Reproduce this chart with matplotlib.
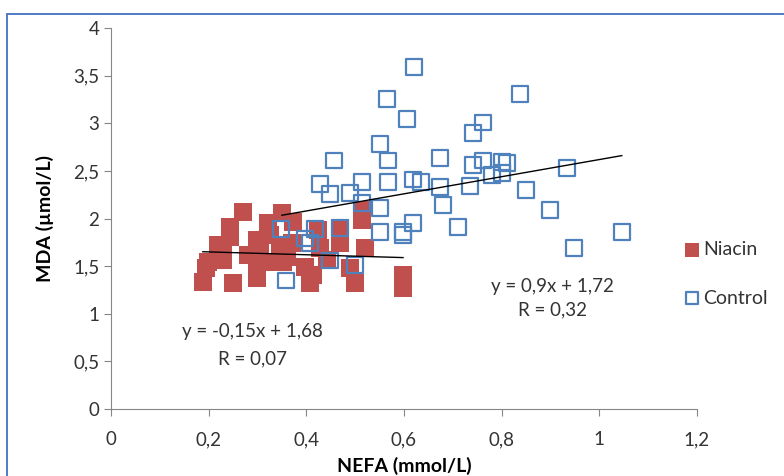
import matplotlib
matplotlib.use("Agg")
import matplotlib.pyplot as plt
from matplotlib.ticker import FuncFormatter
from matplotlib.patches import Rectangle

# Niacin group (NEFA, MDA)
niacin_x = [0.270, 0.350, 0.244, 0.322, 0.373, 0.514, 0.514, 0.469, 0.219, 0.244,
            0.299, 0.305, 0.346, 0.371, 0.428, 0.469, 0.520, 0.199, 0.229, 0.299,
            0.352, 0.397, 0.442, 0.489, 0.188, 0.250, 0.408, 0.500, 0.299, 0.414,
            0.598, 0.598, 0.326, 0.326, 0.424, 0.195, 0.280, 0.360, 0.230]
niacin_y = [2.07, 2.06, 1.91, 1.95, 1.96, 1.98, 2.09, 1.90, 1.72, 1.81,
            1.77, 1.64, 1.70, 1.74, 1.69, 1.74, 1.69, 1.54, 1.56, 1.48,
            1.54, 1.49, 1.56, 1.48, 1.33, 1.32, 1.32, 1.32, 1.38, 1.41,
            1.41, 1.27, 1.54, 1.83, 1.88, 1.48, 1.62, 1.60, 1.66]

# Control group
control_x = [0.620, 0.565, 0.606, 0.551, 0.457, 0.567, 0.674, 0.428, 0.514, 0.567,
             0.618, 0.635, 0.448, 0.489, 0.674, 0.838, 0.762, 0.741, 0.741, 0.762,
             0.800, 0.811, 0.780, 0.800, 0.934, 0.735, 0.850, 0.551, 0.680, 0.899,
             0.618, 0.551, 0.598, 0.598, 0.711, 0.948, 1.046, 0.348, 0.418, 0.469,
             0.397, 0.408, 0.448, 0.500, 0.358, 0.514]
control_y = [3.59, 3.26, 3.05, 2.78, 2.61, 2.61, 2.64, 2.36, 2.38, 2.38,
             2.41, 2.38, 2.26, 2.27, 2.33, 3.31, 3.01, 2.90, 2.56, 2.61,
             2.59, 2.58, 2.46, 2.48, 2.53, 2.34, 2.30, 2.11, 2.14, 2.09,
             1.95, 1.86, 1.86, 1.83, 1.91, 1.69, 1.86, 1.89, 1.89, 1.90,
             1.79, 1.74, 1.56, 1.51, 1.35, 2.16]

# trend lines
niacin_fit = (-0.15, 1.68)
niacin_range = (0.188, 0.598)
control_fit = (0.9, 1.72)
control_range = (0.35, 1.046)

xticks = [0, 0.2, 0.4, 0.6, 0.8, 1.0, 1.2]
yticks = [0, 0.5, 1, 1.5, 2, 2.5, 3, 3.5, 4]

red = "#C0504D"
blue = "#4F81BD"

plt.rcParams['font.family'] = ['Lato', 'DejaVu Sans']

fig = plt.figure(figsize=(7.84, 4.76), dpi=100)
ax = fig.add_axes([0.1416, 0.1408, 0.7474, 0.800])

# outer frame of the chart area
fig.patches.append(Rectangle((7 / 784, -0.05), 1.2, 1 - 14 / 476 + 0.05,
                             transform=fig.transFigure, fill=False,
                             edgecolor="#4472C4", linewidth=1.3))

ax.scatter(niacin_x, niacin_y, marker="s", s=170, color=red, linewidths=0,
           label="Niacin", zorder=2)
ax.scatter(control_x, control_y, marker="s", s=130, facecolors="none",
           edgecolors=blue, linewidths=1.6, label="Control", zorder=3)

for (a, b), (x0, x1) in [(niacin_fit, niacin_range), (control_fit, control_range)]:
    ax.plot([x0, x1], [a * x0 + b, a * x1 + b], color="black", lw=1.0, zorder=4)

ax.set_xlim(0, 1.2)
ax.set_ylim(0, 4)
ax.set_xticks(xticks)
ax.set_yticks(yticks)
fmt = FuncFormatter(lambda v, p: ("%g" % v).replace(".", ","))
ax.xaxis.set_major_formatter(fmt)
ax.yaxis.set_major_formatter(fmt)

for side in ["top", "right"]:
    ax.spines[side].set_visible(False)
for side in ["left", "bottom"]:
    ax.spines[side].set_color("#868686")
ax.tick_params(direction="out", length=5, color="#868686", labelsize=13.5,
               labelcolor="#333333")
ax.tick_params(axis="x", pad=11)

ax.set_xlabel("NEFA (mmol/L)", fontsize=14, fontweight="bold", labelpad=6)
ax.set_ylabel("MDA (\u00b5mol/L)", fontsize=14, fontweight="bold", labelpad=14)

ax.text(0.29, 0.81, "y = -0,15x + 1,68", fontsize=13.5, ha="center", va="center",
        color="#333333")
ax.text(0.29, 0.53, "R = 0,07", fontsize=13.5, ha="center", va="center",
        color="#333333")
ax.text(0.905, 1.29, "y = 0,9x + 1,72", fontsize=13.5, ha="center", va="center",
        color="#333333")
ax.text(0.905, 1.04, "R = 0,32", fontsize=13.5, ha="center", va="center",
        color="#333333")

leg = ax.legend(loc="upper left", bbox_to_anchor=(0.98, 0.44), frameon=False,
                fontsize=14, handletextpad=0.2, handlelength=0.7,
                labelspacing=1.6, markerscale=0.75, borderaxespad=0,
                borderpad=0)
for t in leg.get_texts():
    t.set_color("#333333")

fig.savefig("out.png", dpi=100)
